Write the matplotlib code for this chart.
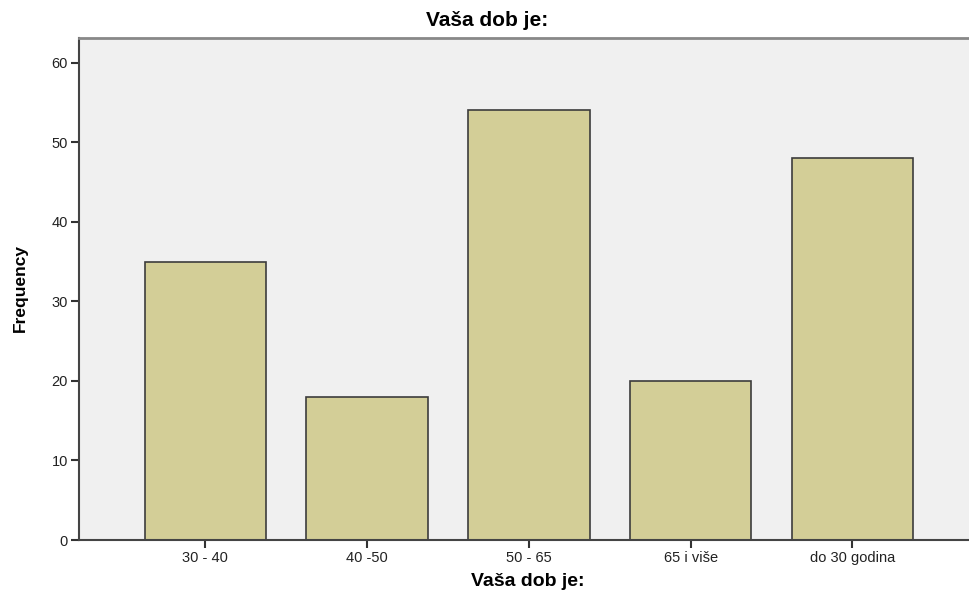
import matplotlib.pyplot as plt
import numpy as np

plt.rcParams["font.family"] = ["Liberation Sans", "DejaVu Sans"]

# data
categories = ["30 - 40", "40 -50", "50 - 65", "65 i više", "do 30 godina"]
counts = [35, 18, 54, 20, 48]
yticks = [0, 10, 20, 30, 40, 50, 60]


def main():
    fig = plt.figure(figsize=(9.69, 5.95), dpi=100)
    ax = fig.add_axes([79 / 969, 55 / 595, 1 - 79 / 969, 502 / 595])
    ax.set_facecolor("#f0f0f0")

    x = np.arange(len(categories))
    ax.bar(x, counts, 0.75, color="#d3ce97", edgecolor="#3c3c3c", linewidth=1.2)

    ax.set_xlim(-0.78, 4.72)
    ax.set_ylim(0, 63.1)
    ax.set_xticks(x)
    ax.set_xticklabels(categories, fontsize=10.5)
    ax.set_yticks(yticks)
    ax.set_yticklabels([str(v) for v in yticks], fontsize=10.5)
    ax.tick_params(axis="both", length=6, width=1.5, color="#333333", pad=2)
    for lbl in ax.get_xticklabels() + ax.get_yticklabels():
        lbl.set_color("#222222")

    for side in ["left", "bottom"]:
        ax.spines[side].set_color("#444444")
        ax.spines[side].set_linewidth(1.5)
    ax.spines["top"].set_color("#888888")
    ax.spines["top"].set_linewidth(2)
    ax.spines["right"].set_visible(False)

    # titles
    fig.text(487 / 969, 1 - 20 / 595, "Vaša dob je:", ha="center", va="center",
             fontsize=15, fontweight="bold")
    fig.text(528 / 969, 1 - 582 / 595, "Vaša dob je:", ha="center", va="center",
             fontsize=14, fontweight="bold")
    fig.text(20 / 969, 1 - 288 / 595, "Frequency", ha="center", va="center",
             rotation=90, fontsize=12.5, fontweight="bold")

    fig.savefig("out.png", dpi=100)


if __name__ == "__main__":
    main()
